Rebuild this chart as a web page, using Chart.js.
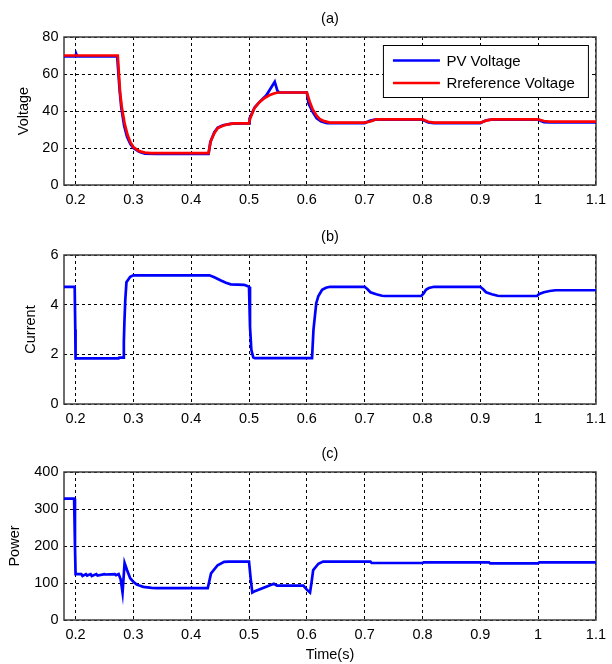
<!DOCTYPE html>
<html>
<head>
<meta charset="utf-8">
<script src="https://cdn.jsdelivr.net/npm/chart.js@4.4.0/dist/chart.umd.min.js"></script>
<style>
  body { margin: 0; background: #fff; }
  .panel { position: absolute; left: 0; width: 612px; }
</style>
</head>
<body>
<div class="panel" style="top:0;height:212px"><canvas id="chartA"></canvas></div>
<div class="panel" style="top:218px;height:213px"><canvas id="chartB"></canvas></div>
<div class="panel" style="top:435px;height:229px"><canvas id="chartC"></canvas></div>
<script>
// time axis ticks, shared by all three panels
let timeTicks = [0.2, 0.3, 0.4, 0.5, 0.6, 0.7, 0.8, 0.9, 1, 1.1];

// (a) voltage
let voltageTicks = [0, 20, 40, 60, 80];
let pvTime = [0.18, 0.2, 0.201, 0.203, 0.272, 0.276, 0.279, 0.284, 0.289, 0.295, 0.30, 0.31, 0.32, 0.34, 0.43, 0.433, 0.44, 0.446, 0.455, 0.47, 0.5, 0.501, 0.51, 0.52, 0.53, 0.5445, 0.549, 0.552, 0.6, 0.603, 0.61, 0.617, 0.625, 0.635, 0.7, 0.71, 0.72, 0.8, 0.81, 0.82, 0.9, 0.91, 0.92, 1.0, 1.01, 1.02, 1.1];
let pvVoltage = [69.5, 69.5, 71, 69.5, 69.5, 52, 42, 32, 26, 22, 20, 18, 17, 16.8, 16.8, 23, 28.5, 31, 32.3, 33.2, 33.3, 36, 42, 45.5, 48.5, 55.8, 51, 50, 50, 44, 39.5, 36, 34.3, 33.5, 33.5, 34.8, 35.5, 35.3, 33.8, 33.5, 33.5, 35, 35.3, 35.3, 34, 33.9, 33.9];
let refTime = [0.18, 0.273, 0.277, 0.28, 0.285, 0.29, 0.295, 0.30, 0.31, 0.32, 0.33, 0.43, 0.434, 0.44, 0.446, 0.455, 0.463, 0.475, 0.5, 0.502, 0.509, 0.517, 0.526, 0.535, 0.543, 0.55, 0.6, 0.605, 0.61, 0.617, 0.623, 0.63, 0.64, 0.7, 0.71, 0.72, 0.8, 0.81, 0.82, 0.9, 0.91, 0.92, 1.0, 1.01, 1.02, 1.1];
let refVoltage = [70, 70, 50, 42, 33, 27, 23, 20.5, 18.3, 17.5, 17.2, 17.2, 24, 28, 30.8, 32, 32.8, 33.3, 33.3, 36, 41.4, 44.5, 46.8, 48.5, 49.5, 50, 50, 45, 41, 37.5, 35.5, 34.5, 33.7, 33.7, 34.3, 35.5, 35.5, 34.2, 33.7, 33.7, 34.8, 35.5, 35.5, 34.6, 34.3, 34.3];

// (b) current
let currentTicks = [0, 2, 4, 6];
let currentTime = [0.18, 0.1985, 0.1995, 0.2, 0.2745, 0.2755, 0.2825, 0.2835, 0.2845, 0.286, 0.288, 0.2945, 0.3, 0.4315, 0.44, 0.4514, 0.46, 0.4685, 0.4914, 0.497, 0.5, 0.5017, 0.504, 0.5073, 0.51, 0.609, 0.6115, 0.6163, 0.62, 0.6264, 0.633, 0.64, 0.7, 0.705, 0.71, 0.72, 0.73, 0.735, 0.798, 0.802, 0.806, 0.811, 0.82, 0.9, 0.905, 0.91, 0.92, 0.93, 0.935, 0.998, 1.002, 1.01, 1.02, 1.03, 1.1];
let current = [4.72, 4.72, 3.0, 1.84, 1.84, 1.87, 1.87, 2.5, 3.3, 4.2, 4.9, 5.12, 5.18, 5.18, 5.1, 4.97, 4.88, 4.82, 4.8, 4.75, 4.72, 3.12, 2.18, 1.88, 1.85, 1.85, 3.0, 4.06, 4.35, 4.6, 4.68, 4.72, 4.72, 4.62, 4.5, 4.42, 4.36, 4.35, 4.35, 4.45, 4.6, 4.67, 4.72, 4.72, 4.62, 4.5, 4.42, 4.36, 4.35, 4.35, 4.43, 4.5, 4.55, 4.58, 4.58];

// (c) power
let powerTicks = [0, 100, 200, 300, 400];
let powerTime = [0.18, 0.1975, 0.199, 0.2, 0.21, 0.212, 0.218, 0.22, 0.226, 0.228, 0.236, 0.238, 0.25, 0.252, 0.268, 0.27, 0.2745, 0.278, 0.2813, 0.2848, 0.289, 0.2945, 0.3, 0.3058, 0.3173, 0.3315, 0.34, 0.4286, 0.4343, 0.4457, 0.457, 0.465, 0.5, 0.503, 0.5057, 0.51, 0.543, 0.5485, 0.594, 0.6, 0.6055, 0.608, 0.611, 0.62, 0.628, 0.71, 0.712, 0.8, 0.802, 0.915, 0.917, 1.0, 1.002, 1.1];
let power = [328, 328, 200, 124, 124, 119, 124, 120, 124, 119, 124, 120, 124, 123, 124, 121, 124, 110, 74, 154, 135, 113, 103, 95.5, 89.5, 87, 86, 86, 126, 148, 157, 158, 158, 110, 74, 78, 98, 93, 93, 82, 74, 100, 135, 152, 158, 158, 154, 154, 156, 156, 153, 153, 156, 156];

Chart.defaults.font.family = "'Liberation Sans', Arial, sans-serif";
Chart.defaults.font.size = 14.5;
Chart.defaults.color = '#000';

function points(xs, ys) {
  return xs.map((x, i) => ({ x: x, y: ys[i] }));
}

function tickList(values) {
  return scale => { scale.ticks = values.map(v => ({ value: v })); };
}

// matlab style box round the axes
const axesBox = {
  id: 'axesBox',
  beforeDatasetsDraw(chart) {
    const a = chart.chartArea, ctx = chart.ctx;
    ctx.save();
    ctx.strokeStyle = '#3c3c3c';
    ctx.lineWidth = 1.5;
    ctx.strokeRect(Math.round(a.left), Math.round(a.top), Math.round(a.width), Math.round(a.height));
    ctx.restore();
  }
};

// boxed legend in the upper right corner
const boxLegend = {
  id: 'boxLegend',
  afterDatasetsDraw(chart) {
    const a = chart.chartArea, ctx = chart.ctx;
    const left = a.right - 212.5, top = a.top + 8.5;
    ctx.save();
    ctx.fillStyle = '#fff';
    ctx.fillRect(left, top, 205, 52);
    ctx.strokeStyle = '#000';
    ctx.lineWidth = 1;
    ctx.strokeRect(left, top, 205, 52);
    ctx.font = "15px 'Liberation Sans', Arial, sans-serif";
    ctx.textBaseline = 'middle';
    chart.data.datasets.forEach((ds, i) => {
      const y = top + 15 + i * 22.5;
      ctx.strokeStyle = ds.borderColor;
      ctx.lineWidth = 2.5;
      ctx.beginPath();
      ctx.moveTo(left + 9.5, y);
      ctx.lineTo(left + 56.5, y);
      ctx.stroke();
      ctx.fillStyle = '#000';
      ctx.fillText(ds.label, left + 63, y + 1);
    });
    ctx.restore();
  }
};

function panel(id, title, datasets, yTitle, yTitlePad, yTicks, xHeight, xTitle, extra) {
  return new Chart(id, {
    type: 'line',
    data: { datasets: datasets },
    options: {
      responsive: true,
      maintainAspectRatio: false,
      animation: false,
      layout: { padding: { left: 0, right: 12, top: 0, bottom: 0 } },
      elements: { point: { radius: 0 }, line: { tension: 0, borderWidth: 2.7 } },
      scales: {
        x: {
          type: 'linear',
          min: 0.18,
          max: 1.1,
          afterBuildTicks: tickList(timeTicks),
          afterFit: s => { s.height = xHeight; },
          ticks: { padding: 6, maxRotation: 0, autoSkip: false, callback: v => String(v) },
          grid: { color: '#000', drawTicks: false },
          border: { display: false, dash: [3, 3] },
          title: { display: !!xTitle, text: xTitle || '', padding: { top: 0, bottom: 0 } }
        },
        y: {
          min: yTicks[0],
          max: yTicks[yTicks.length - 1],
          afterBuildTicks: tickList(yTicks),
          afterFit: s => { s.width = 64; },
          ticks: { padding: 5.5, callback: v => String(v) },
          grid: { color: '#000', drawTicks: false },
          border: { display: false, dash: [3, 3] },
          title: { display: true, text: yTitle, padding: { top: yTitlePad, bottom: 0 } }
        }
      },
      plugins: {
        legend: { display: false },
        tooltip: { enabled: false },
        title: {
          display: true,
          text: title,
          fullSize: false,
          font: { size: 14.5, weight: 'normal' },
          padding: { top: 10.3, bottom: 9.3 }
        }
      }
    },
    plugins: [axesBox].concat(extra || [])
  });
}

panel('chartA', '(a)', [
  { label: 'PV Voltage', data: points(pvTime, pvVoltage), borderColor: '#0000ff', order: 1 },
  { label: 'Rreference Voltage', data: points(refTime, refVoltage), borderColor: '#ff0000', order: 0 }
], 'Voltage', 15, voltageTicks, 27, null, [boxLegend]);

panel('chartB', '(b)', [
  { label: 'Current', data: points(currentTime, current), borderColor: '#0000ff' }
], 'Current', 22, currentTicks, 27, null);

panel('chartC', '(c)', [
  { label: 'Power', data: points(powerTime, power), borderColor: '#0000ff' }
], 'Power', 6, powerTicks, 44, 'Time(s)');
</script>
</body>
</html>
